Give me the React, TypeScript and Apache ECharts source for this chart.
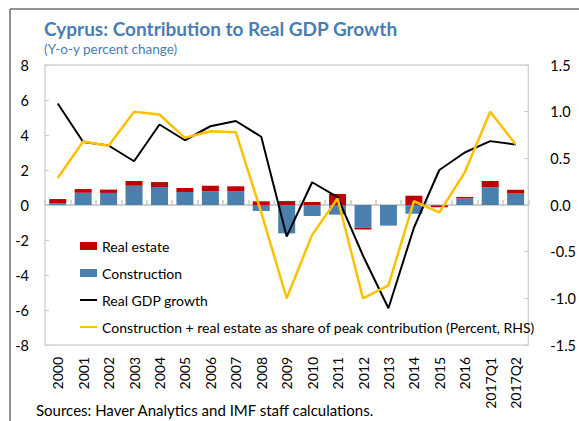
import React, { useEffect, useRef } from "react";
import * as echarts from "echarts";

const categories = ["2000","2001","2002","2003","2004","2005","2006","2007","2008","2009","2010","2011","2012","2013","2014","2015","2016","2017Q1","2017Q2"];
const construction = [0.1,0.7,0.69,1.1,1.03,0.74,0.78,0.78,-0.34,-1.62,-0.63,-0.55,-1.3,-1.18,-0.5,-0.03,0.38,1.01,0.65];
const realEstate = [0.24,0.21,0.19,0.27,0.28,0.23,0.32,0.29,0.21,0.23,0.17,0.63,-0.1,0,0.53,-0.1,0.08,0.36,0.22];
const gdpGrowth = [5.8,3.6,3.4,2.5,4.6,3.7,4.5,4.8,3.9,-1.8,1.3,0.45,-2.9,-5.9,-1.3,2.0,3.0,3.65,3.45];
const shareOfPeak = [0.29,0.68,0.635,1.0,0.97,0.72,0.79,0.78,-0.08,-1.0,-0.32,0.07,-1.0,-0.86,0.04,-0.08,0.35,1.0,0.65];

const FONT = "Lato";
const BLUE_TITLE = "#4a7db3";
const BAR_BLUE = "#4a80ad";
const BAR_RED = "#c00000";
const YELLOW = "#ffc000";
const LINE_ICON = "path://M0,0 L17,0 L17,2 L0,2 Z";

export default function App() {
  const ref = useRef<HTMLDivElement>(null);
  useEffect(() => {
    if (!ref.current) return;
    const chart = echarts.init(ref.current, undefined, { renderer: "svg" });
    chart.setOption({
      animation: false,
      backgroundColor: "#ffffff",
      textStyle: { fontFamily: FONT },
      title: {
        text: "Cyprus: Contribution to Real GDP Growth",
        subtext: "(Y-o-y percent change)",
        left: 39,
        top: 14,
        itemGap: 4,
        textStyle: { fontFamily: FONT, fontSize: 19, fontWeight: "bold", color: BLUE_TITLE },
        subtextStyle: { fontFamily: FONT, fontSize: 13.5, color: BLUE_TITLE },
      },
      grid: {
        left: 45,
        right: 35,
        top: 65,
        bottom: 76,
        show: true,
        borderColor: "#d4d4d4",
        borderWidth: 1.5,
        containLabel: false,
      },
      legend: {
        orient: "vertical",
        left: 75,
        top: 233,
        itemWidth: 17,
        itemHeight: 8,
        itemGap: 11,
        textStyle: { fontFamily: FONT, fontSize: 14, color: "#000", lineHeight: 16 },
        data: [
          { name: "Real estate", icon: "rect" },
          { name: "Construction", icon: "rect" },
          { name: "Real GDP growth", icon: LINE_ICON },
          { name: "Construction + real estate as share of peak contribution (Percent, RHS)", icon: LINE_ICON },
        ],
      },
      xAxis: [
        {
          type: "category",
          data: categories,
          position: "bottom",
          axisLine: { show: false, onZero: false },
          axisTick: { show: false },
          axisLabel: { rotate: 90, margin: 12, fontFamily: FONT, fontSize: 14, color: "#000", interval: 0 },
          splitLine: { show: false },
        },
        {
          type: "category",
          data: categories,
          position: "bottom",
          axisLine: { show: true, onZero: true, lineStyle: { color: "#bfbfbf", width: 1.5 } },
          axisTick: { show: true, inside: true, length: 5, alignWithLabel: false, interval: 0, lineStyle: { color: "#c8c8c8", width: 1.5 } },
          axisLabel: { show: false },
          splitLine: { show: false },
        },
      ],
      yAxis: [
        {
          type: "value",
          min: -8,
          max: 8,
          interval: 2,
          axisLine: { show: false },
          axisTick: { show: true, inside: true, length: 4, lineStyle: { color: "#c8c8c8" } },
          axisLabel: { margin: 16, fontFamily: FONT, fontSize: 14.5, color: "#000" },
          splitLine: { show: false },
        },
        {
          type: "value",
          min: -1.5,
          max: 1.5,
          interval: 0.5,
          position: "right",
          axisLine: { show: false },
          axisTick: { show: true, inside: true, length: 4, lineStyle: { color: "#c8c8c8" } },
          axisLabel: { margin: 22, fontFamily: FONT, fontSize: 14.5, color: "#000", formatter: (v: number) => v.toFixed(1) },
          splitLine: { show: false },
        },
      ],
      series: [
        {
          name: "Construction",
          type: "bar",
          stack: "contrib",
          xAxisIndex: 0,
          yAxisIndex: 0,
          barWidth: 17,
          data: construction,
          itemStyle: { color: BAR_BLUE },
        },
        {
          name: "Real estate",
          type: "bar",
          stack: "contrib",
          xAxisIndex: 0,
          yAxisIndex: 0,
          barWidth: 17,
          data: realEstate,
          itemStyle: { color: BAR_RED },
        },
        {
          name: "Real GDP growth",
          type: "line",
          xAxisIndex: 0,
          yAxisIndex: 0,
          data: gdpGrowth,
          symbol: "none",
          lineStyle: { color: "#000", width: 2 },
          itemStyle: { color: "#000" },
        },
        {
          name: "Construction + real estate as share of peak contribution (Percent, RHS)",
          type: "line",
          xAxisIndex: 0,
          yAxisIndex: 1,
          data: shareOfPeak,
          symbol: "none",
          lineStyle: { color: YELLOW, width: 2.5 },
          itemStyle: { color: YELLOW },
        },
      ],
      graphic: [
        { type: "line", shape: { x1: 10, y1: 9, x2: 579, y2: 9 }, style: { stroke: "#6e6e6e", lineWidth: 1.5 } },
        { type: "line", shape: { x1: 10, y1: 9, x2: 10, y2: 421 }, style: { stroke: "#6e6e6e", lineWidth: 1.5 } },
        {
          type: "text",
          left: 36,
          top: 402,
          style: { text: "Sources: Haver Analytics and IMF staff calculations.", fontFamily: FONT, fontSize: 15, fill: "#000" },
        },
      ],
    });
    return () => chart.dispose();
  }, []);
  return <div ref={ref} style={{ position: "fixed", left: 0, top: 0, width: 579, height: 421 }} />;
}
